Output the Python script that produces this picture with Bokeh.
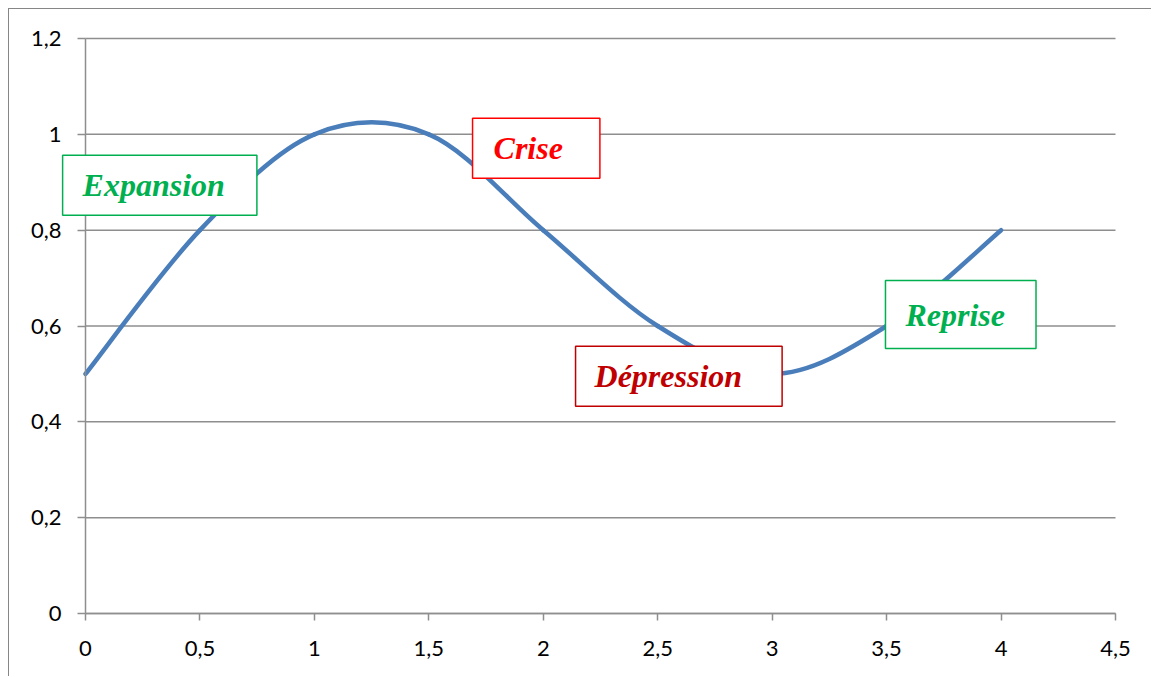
import numpy as np
from bokeh.plotting import figure
from bokeh.models import FixedTicker, Label, LinearAxis
from bokeh.embed import file_html
from bokeh.resources import INLINE

# ---- data ----
x_values = [0, 0.5, 1, 1.5, 2, 2.5, 3, 3.5, 4]
y_values = [0.5, 0.8, 1.0, 1.0, 0.8, 0.6, 0.5, 0.6, 0.8]

x_ticks = [0, 0.5, 1, 1.5, 2, 2.5, 3, 3.5, 4, 4.5]
x_tick_labels = ["0", "0,5", "1", "1,5", "2", "2,5", "3", "3,5", "4", "4,5"]
y_ticks = [0, 0.2, 0.4, 0.6, 0.8, 1.0, 1.2]
y_tick_labels = ["0", "0,2", "0,4", "0,6", "0,8", "1", "1,2"]

phase_names = ["Expansion", "Crise", "Dépression", "Reprise"]
phase_x = [-0.100, 1.691, 2.141, 3.495]
phase_y = [0.894, 0.971, 0.495, 0.624]
phase_colors = ["#00b050", "#ff0000", "#c00000", "#00b050"]
phase_pad_right = [32, 37, 40, 31]
phase_pad_left = [20, 21, 19, 20]
phase_pad_v = [12, 12, 12, 16]

x_min, x_max = 0, 4.5
y_min, y_max = 0, 1.2

# ---- geometry: the frame fills the whole canvas; axes sit at fixed locations ----
W, H = 1143, 668
plot_left, plot_right = 76, 1106    # px from canvas left where x = 0 and x = 4.5
plot_top, plot_bottom = 29, 604     # px from canvas top where y = 1.2 and y = 0
sx = (plot_right - plot_left) / (x_max - x_min)
sy = (plot_bottom - plot_top) / (y_max - y_min)
x_view = (x_min - plot_left / sx, x_max + (W - plot_right) / sx)
y_view = (y_min - (H - plot_bottom) / sy, y_max + plot_top / sy)

p = figure(width=W, height=H, output_backend="svg", toolbar_location=None,
           x_range=x_view, y_range=y_view, x_axis_location=None, y_axis_location=None,
           min_border=0)
p.styles = {"border-left": "1px solid #868686", "border-top": "1px solid #868686",
            "margin-left": "8px", "margin-top": "8px"}
p.outline_line_color = None
p.background_fill_color = "white"
p.border_fill_color = "white"

grid_col = "#8e8e8e"
p.xgrid.grid_line_color = None
p.ygrid.grid_line_color = None

# horizontal grid lines spanning only the axis extent
p.segment(x0=[x_min] * len(y_ticks), x1=[x_max] * len(y_ticks), y0=y_ticks, y1=y_ticks,
          line_color=grid_col, line_width=1.5)

xaxis = LinearAxis(fixed_location=y_min, bounds=(x_min, x_max),
                   ticker=FixedTicker(ticks=x_ticks))
yaxis = LinearAxis(fixed_location=x_min, bounds=(y_min, y_max),
                   ticker=FixedTicker(ticks=y_ticks))
p.add_layout(xaxis, "below")
p.add_layout(yaxis, "left")
xaxis.major_label_overrides = {t: l for t, l in zip(x_ticks, x_tick_labels)}
yaxis.major_label_overrides = {t: l for t, l in zip(y_ticks, y_tick_labels)}

for ax in (xaxis, yaxis):
    ax.axis_line_color = grid_col
    ax.axis_line_width = 1.5
    ax.major_tick_line_color = grid_col
    ax.major_tick_line_width = 1.5
    ax.major_tick_in = 0
    ax.minor_tick_line_color = None
    ax.major_label_text_font = "Lato"
    ax.major_label_text_font_size = "22px"
    ax.major_label_text_color = "black"
xaxis.major_tick_out = 7
yaxis.major_tick_out = 8
xaxis.major_label_standoff = 20
yaxis.major_label_standoff = 16

# ---- smoothed curve (Bezier segments through the data points) ----
P = np.column_stack([x_values, y_values]).astype(float)
prev_pts = np.vstack([P[0], P[:-1]])
next_pts = np.vstack([P[1:], P[-1]])
tang = (next_pts - prev_pts) / 6.0
c0 = P[:-1] + tang[:-1]
c1 = P[1:] - tang[1:]
p.bezier(x0=P[:-1, 0], y0=P[:-1, 1], x1=P[1:, 0], y1=P[1:, 1],
         cx0=c0[:, 0], cy0=c0[:, 1], cx1=c1[:, 0], cy1=c1[:, 1],
         line_color="#4a7ebb", line_width=4.5, line_cap="round")

# ---- phase labels ----
for name, lx, ly, col, pl, pr, pv in zip(phase_names, phase_x, phase_y, phase_colors,
                                          phase_pad_left, phase_pad_right, phase_pad_v):
    lab = Label(x=lx, y=ly, text=name, text_font="Liberation Serif",
                text_font_style="bold italic", text_font_size="32px", text_color=col,
                text_align="left", text_baseline="middle",
                background_fill_color="white", border_line_color=col, border_line_width=1.5,
                padding=dict(left=pl, right=pr, top=pv, bottom=pv))
    p.add_layout(lab)

open("out.html", "w").write(file_html(p, INLINE))
